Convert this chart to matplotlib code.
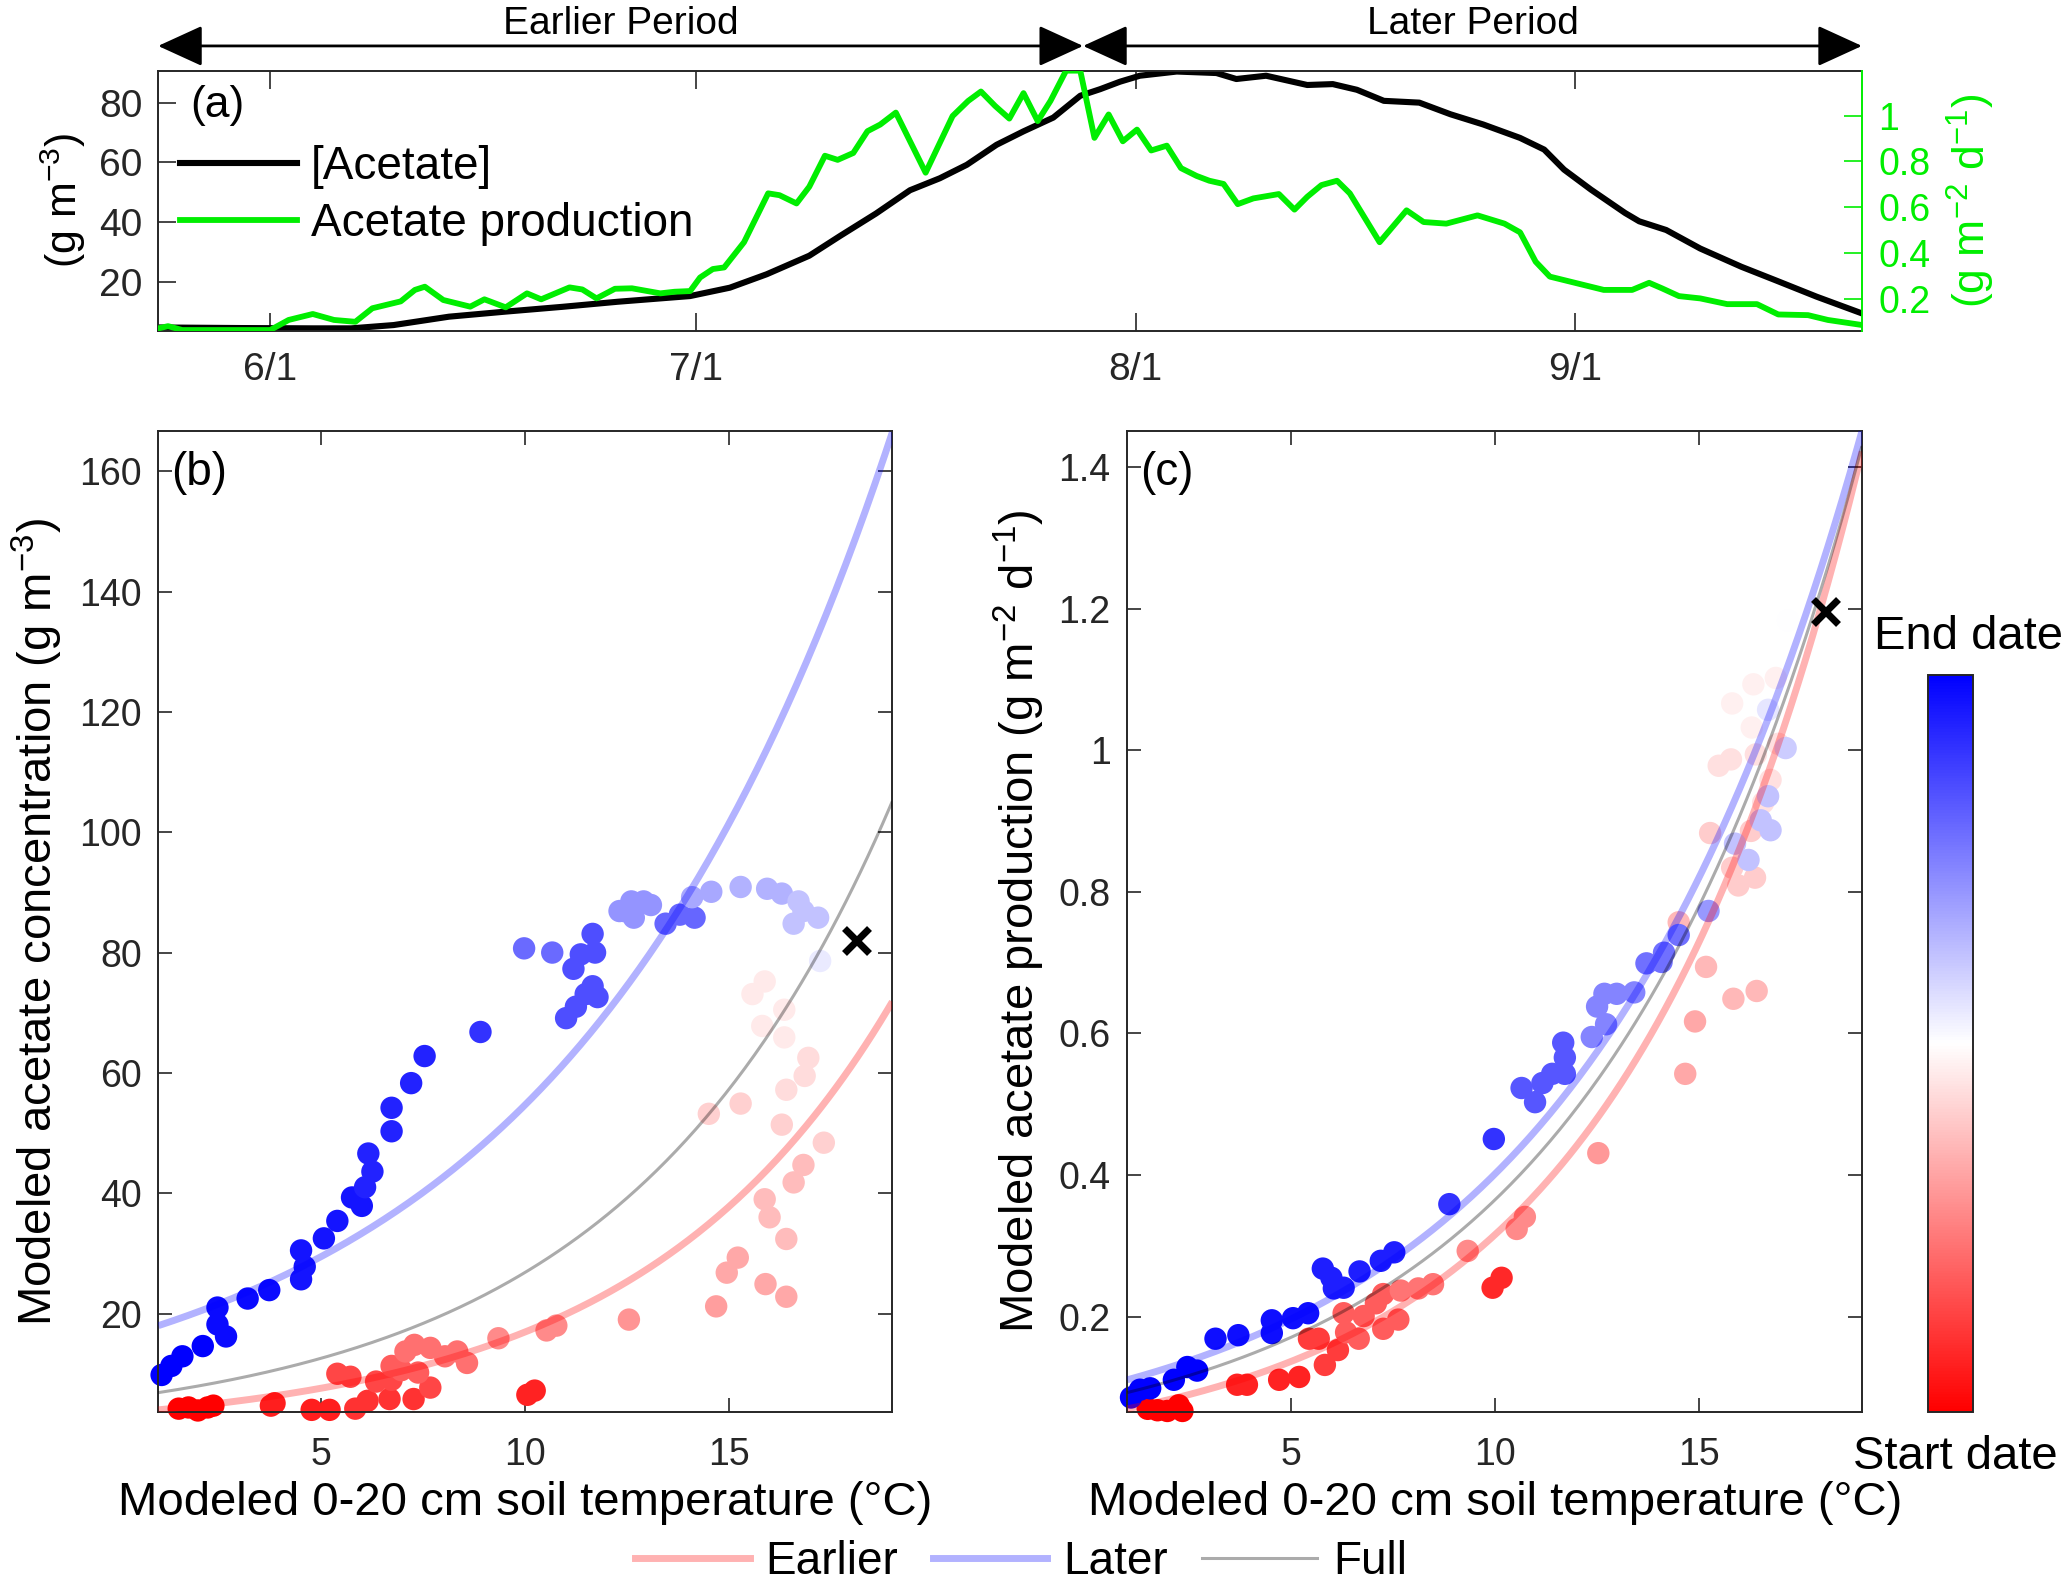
import numpy as np
import matplotlib
matplotlib.use('Agg')
import matplotlib.pyplot as plt
from matplotlib.colors import LinearSegmentedColormap, Normalize
from matplotlib.cm import ScalarMappable
from matplotlib.lines import Line2D
from matplotlib.ticker import FormatStrFormatter
import matplotlib.transforms as mtransforms

plt.rcParams['font.family'] = ['Liberation Sans', 'DejaVu Sans']
plt.rcParams['mathtext.default'] = 'regular'

# ---- panel (a): seasonal time series (day of year) ----
black_day = [144.1, 150, 155, 157.7, 160.7, 164.6, 168.6, 172.6, 176.5, 181.6,
             184.4, 187.0, 190.0, 192.2, 194.7, 197.1, 199.2, 201.1, 203.2, 205.1,
             207.2, 209.1, 210.5, 211.9, 213.3, 215.9, 218.7, 220.1, 222.2, 225.1,
             226.9, 228.6, 230.5, 233.0, 235.2, 237.5, 240.1, 241.8, 243.2, 245.1,
             247.5, 248.5, 250.4, 252.8, 255.7, 258.1, 261, 264.2]
acetate_conc = [4.8, 4.6, 4.5, 4.5, 5.6, 8.4, 10.1, 11.7, 13.4, 15.3,
                18.1, 22.6, 28.8, 35.5, 42.9, 50.7, 54.7, 59.2, 65.9, 70.4,
                75.0, 82.3, 84.5, 87.0, 89.0, 90.4, 89.9, 87.9, 89.0, 85.9,
                86.2, 84.3, 80.6, 80.0, 76.1, 72.7, 68.2, 64.3, 57.6, 50.9,
                43.1, 40.3, 37.4, 31.2, 25.1, 20.6, 15.1, 9.5]

green_day = [144.1, 144.8, 145.8, 152.0, 153.3, 155.0, 156.5, 158.0, 159.2, 161.2,
             162.2, 162.9, 164.2, 166.1, 167.1, 168.6, 170.1, 171.1, 173.1, 174.0,
             175.0, 176.3, 177.5, 179.5, 180.5, 181.6, 182.3, 183.2, 184.0, 185.4,
             187.1, 187.9, 189.1, 190.0, 191.1, 192.0, 193.1, 194.1, 195.0, 196.1,
             198.2, 200.1, 201.2, 202.1, 203.1, 204.1, 205.1, 206.1, 207.0, 208.1,
             209.1, 210.1, 211.1, 212.1, 213.1, 214.1, 215.2, 216.2, 217.3, 218.2,
             219.2, 220.2, 221.3, 223.1, 224.2, 225.1, 226.1, 227.2, 228.1, 230.2,
             232.1, 233.3, 234.9, 237.1, 239.0, 240.1, 241.2, 242.2, 244.1, 246.0,
             248.0, 249.2, 250.1, 251.3, 252.8, 254.7, 256.8, 258.3, 260.4, 261.8,
             264.2]
acetate_prod = [.072, .082, .065, .065, .109, .135, .109, .101, .160, .190,
                .240, .254, .196, .167, .199, .164, .225, .199, .251, .242,
                .203, .245, .247, .225, .232, .235, .294, .331, .338, .448,
                .661, .653, .617, .690, .825, .807, .837, .932, .961, 1.013,
                .751, .998, 1.064, 1.105, 1.042, .987, 1.098, .976, 1.064, 1.196,
                1.196, .903, 1.005, .888, .939, .848, .869, .771, .737, .716,
                .702, .614, .639, .658, .590, .646, .697, .716, .661, .448,
                .587, .536, .529, .565, .529, .491, .363, .298, .269, .240,
                .240, .271, .247, .213, .203, .178, .178, .133, .130, .109,
                .087]

date_ticks = [152, 182, 213, 244]
date_labels = ['6/1', '7/1', '8/1', '9/1']
period_edges = [144.1, 209.3, 264.2]
period_names = ['Earlier Period', 'Later Period']

# ---- panel (b): temperature vs concentration ----
# shade: 0 = start date (red), 0.5 = split date (white), 1 = end date (blue)
early_temp_b = [1.50, 1.74, 1.97, 2.21, 2.35, 3.76, 3.85, 4.76, 5.20,
                5.83, 6.13, 6.67, 7.26, 10.05, 10.23, 5.39, 5.71, 6.34, 6.72, 7.67,
                6.72, 6.96, 7.37, 7.28, 7.06, 7.67, 8.03, 8.33, 8.57,
                9.34, 10.52, 10.76, 12.54, 14.68, 14.94, 15.21, 15.89, 16.40,
                15.87, 15.99, 16.40, 16.58, 16.82, 14.50, 15.28, 16.29, 17.32,
                16.40, 16.85, 16.94, 15.57, 15.81, 15.87, 16.35, 16.35]
early_conc_b = [4.2, 4.4, 3.9, 4.4, 4.7, 4.7, 5.1, 4.0, 4.0,
                4.2, 5.5, 5.8, 5.8, 6.5, 7.2, 10.0, 9.5, 8.7, 9.0, 7.7,
                11.3, 10.6, 10.2, 14.8, 13.7, 14.3, 12.9, 13.7, 11.8,
                15.9, 17.2, 18.0, 19.0, 21.2, 26.8, 29.3, 24.9, 22.8,
                39.0, 36.0, 32.4, 41.8, 44.7, 53.2, 54.9, 51.4, 48.4,
                57.2, 59.5, 62.5, 73.1, 67.8, 75.2, 70.5, 65.9]
early_shade_b = [0.0] * 5 + [0.06] * 4 + [0.1] * 4 + [0.07] * 2 + [0.14] * 5 + \
                [0.18] * 3 + [0.22] * 6 + [0.27] * 3 + [0.29] + [0.31] + [0.33] * 4 + \
                [0.37] * 5 + [0.41] * 4 + [0.43] * 3 + [0.46] * 5

late_temp_b = [1.08, 1.32, 1.59, 2.09, 2.45, 2.45, 2.66, 3.19, 3.72, 4.50,
               4.59, 4.50, 5.06, 5.39, 5.75, 5.99, 6.07, 6.25, 6.15, 6.72,
               6.72, 7.20, 7.53, 8.90, 9.97, 10.66, 11.00, 11.24, 11.48, 11.77,
               11.65, 11.18, 11.36, 11.71, 11.65, 12.42, 12.60, 12.90, 13.08, 12.66,
               12.31, 13.44, 13.79, 14.15, 14.09, 14.56, 15.28, 15.93, 16.29, 16.70,
               16.82, 16.58, 17.18, 17.23]
late_conc_b = [9.8, 11.3, 12.9, 14.6, 21.0, 18.2, 16.2, 22.5, 23.9, 30.5,
               27.8, 25.7, 32.5, 35.4, 39.3, 37.9, 41.0, 43.6, 46.6, 50.3,
               54.2, 58.3, 62.8, 66.8, 80.7, 80.0, 69.1, 71.0, 73.1, 72.6,
               74.4, 77.3, 79.7, 80.0, 83.1, 86.9, 88.5, 88.5, 87.9, 85.8,
               86.9, 84.8, 86.3, 85.8, 89.2, 90.1, 90.9, 90.6, 89.8, 88.5,
               86.9, 84.8, 85.8, 78.6]
late_shade_b = [1.0] * 4 + [0.98] * 5 + [0.96] * 7 + [0.93] * 7 + [0.9] + [0.79] * 2 + \
               [0.845] * 9 + [0.71] * 6 + [0.8] * 3 + [0.67] * 2 + [0.65] * 3 + \
               [0.62] * 4 + [0.54]

# ---- panel (c): temperature vs production ----
early_temp_c = [1.50, 1.74, 1.98, 2.26, 2.35, 3.69, 3.93, 4.72, 5.21, 9.95, 10.17,
                5.45, 5.69, 6.16, 5.84, 6.30, 6.36, 6.67, 6.79, 7.09, 7.27, 7.64, 7.27,
                7.70, 8.13, 8.49, 9.34, 10.54, 10.74, 12.54, 14.67, 14.91,
                15.18, 15.85, 16.42, 14.51, 15.28, 16.28, 15.82, 15.97, 16.38,
                16.40, 15.79, 15.49, 16.95, 16.76, 16.58, 16.89, 16.34, 15.82, 16.30,
                17.19]
early_prod_c = [0.070, 0.068, 0.067, 0.075, 0.067, 0.104, 0.104, 0.111, 0.115, 0.241, 0.255,
                0.169, 0.169, 0.153, 0.132, 0.205, 0.178, 0.169, 0.201, 0.219, 0.232, 0.196, 0.183,
                0.237, 0.240, 0.246, 0.293, 0.324, 0.341, 0.431, 0.543, 0.617,
                0.694, 0.649, 0.660, 0.757, 0.883, 0.886, 0.834, 0.809, 0.820,
                0.994, 0.987, 0.978, 1.009, 0.958, 0.926, 1.102, 1.093, 1.066, 1.032,
                1.183]
early_shade_c = [0.0] * 5 + [0.07] * 4 + [0.08] * 2 + [0.12] * 4 + [0.18] * 8 + \
                [0.23] * 3 + [0.27] * 3 + [0.3] + [0.33] * 2 + [0.36] * 4 + \
                [0.4] * 5 + [0.44] * 6 + [0.47] * 4 + [0.5]

late_temp_c = [1.09, 1.31, 1.56, 2.14, 2.47, 2.71, 3.16, 3.72, 4.54, 4.54, 5.06, 5.43,
               5.79, 6.00, 6.06, 6.30, 6.69, 7.21, 7.54, 8.89, 9.98,
               10.66, 10.99, 11.17, 11.41, 11.72, 11.72, 11.68,
               12.38, 12.73, 12.51, 12.69, 12.99, 13.42, 13.72, 14.15, 14.09, 14.51,
               15.24, 15.89, 16.22, 16.52, 16.76, 16.70, 17.13, 16.70]
late_prod_c = [0.086, 0.097, 0.099, 0.111, 0.129, 0.124, 0.169, 0.174, 0.177, 0.195, 0.198, 0.205,
               0.268, 0.255, 0.240, 0.241, 0.264, 0.279, 0.291, 0.359, 0.451,
               0.523, 0.503, 0.530, 0.543, 0.543, 0.566, 0.587,
               0.595, 0.613, 0.638, 0.656, 0.656, 0.658, 0.699, 0.714, 0.701, 0.739,
               0.773, 0.868, 0.845, 0.901, 0.887, 0.935, 1.003, 1.057]
late_shade_c = [1.0] * 6 + [0.97] * 6 + [0.94] * 7 + [0.9] * 2 + [0.83] * 7 + \
               [0.74] * 6 + [0.78] * 4 + [0.7] + [0.62] * 5 + [0.6] + [0.55]

# split-date values (X marker): temperature, concentration, production
split_temp = 18.1
split_conc = 82.1
split_prod = 1.196

# exponential fits y = a * exp(b * T)
fit_names = ['Earlier', 'Later', 'Full']
fit_b = [(3.41, 0.1604), (15.9, 0.1236), (5.90, 0.1516)]
fit_c = [(0.0592, 0.1673), (0.0962, 0.1428), (0.0799, 0.1518)]

GREEN = '#00ee00'
AX_COL = '#262626'
cmap = LinearSegmentedColormap.from_list('rwb', [(1, 0, 0), (1, 1, 1), (0, 0, 1)])
fit_colors = [(1, 0, 0, 0.3), (0, 0, 1, 0.3), (0, 0, 0, 0.33)]
fit_widths = [5, 5, 2.2]

fig = plt.figure(figsize=(20.67, 15.84), dpi=100)
ax_a = fig.add_axes([0.0765, 0.7912, 0.8243, 0.1642])
ax_g = ax_a.twinx()
ax_b = fig.add_axes([0.0766, 0.1088, 0.3551, 0.6188])
ax_c = fig.add_axes([0.5454, 0.1088, 0.3554, 0.6188])
cax = fig.add_axes([0.9328, 0.1088, 0.0217, 0.4652])

# ---------------- (a) ----------------
l1, = ax_a.plot(black_day, acetate_conc, color='k', lw=4.4, zorder=2)
l2, = ax_g.plot(green_day, acetate_prod, color=GREEN, lw=4.2, zorder=2)
ax_a.set_xlim(144.1, 264.2)
ax_a.set_ylim(3.7, 90.7)
ax_g.set_ylim(0.062, 1.196)
ax_a.set_xticks(date_ticks)
ax_a.set_xticklabels(date_labels)
ax_a.set_yticks([20, 40, 60, 80])
ax_g.set_yticks([0.2, 0.4, 0.6, 0.8, 1.0])
ax_g.yaxis.set_major_formatter(FormatStrFormatter('%g'))
ax_a.tick_params(axis='x', direction='in', top=True, length=13, width=1.2,
                 labelsize=28, pad=15, colors=AX_COL)
ax_a.tick_params(axis='y', direction='in', length=13, width=1.2, labelsize=28,
                 pad=11, colors=AX_COL)
ax_g.tick_params(axis='y', direction='in', length=13, width=1.2, labelsize=27,
                 pad=12, colors=GREEN)
for sp in ['left', 'top', 'bottom']:
    ax_g.spines[sp].set_visible(False)
    ax_a.spines[sp].set_color(AX_COL)
    ax_a.spines[sp].set_linewidth(1.4)
ax_a.spines['right'].set_visible(False)
ax_g.spines['right'].set_color(GREEN)
ax_g.spines['right'].set_linewidth(1.4)
ax_a.set_ylabel('(g m$^{-3}$)', fontsize=31, labelpad=8)
ax_g.set_ylabel('(g m$^{-2}$ d$^{-1}$)', fontsize=32, color=GREEN, rotation=90,
                labelpad=10)
ax_a.text(0.019, 0.865, '(a)', transform=ax_a.transAxes, fontsize=32,
          ha='left', va='center')
ax_a.legend([l1, l2], ['[Acetate]', 'Acetate production'], loc='center left',
            bbox_to_anchor=(0.009, 0.52), frameon=False, fontsize=33,
            handlelength=2.55, handletextpad=0.3, labelspacing=0.28,
            borderaxespad=0, borderpad=0.15)

# period arrows above panel (a)
trans = mtransforms.blended_transform_factory(ax_a.transData, ax_a.transAxes)
for i, name in enumerate(period_names):
    x0, x1 = period_edges[i], period_edges[i + 1]
    ax_a.annotate('', xy=(x1, 1.095), xytext=(x0, 1.095), xycoords=trans,
                  textcoords=trans, annotation_clip=False,
                  arrowprops=dict(arrowstyle='<|-|>,head_length=0.7,head_width=0.32',
                                  color='k', lw=2, mutation_scale=40,
                                  shrinkA=0, shrinkB=0))
    ax_a.text((x0 + x1) / 2, 1.18, name, transform=trans, fontsize=28,
              ha='center', va='center')

# ---------------- (b) and (c) ----------------
t_grid = np.linspace(1.0, 19.0, 300)


def style_scatter_axes(ax):
    ax.set_xlim(1.0, 19.0)
    ax.set_xticks([5, 10, 15])
    ax.tick_params(direction='in', top=True, right=True, length=10, width=1.2,
                   labelsize=27, colors=AX_COL)
    ax.tick_params(axis='x', pad=18)
    ax.tick_params(axis='y', pad=12)
    for sp in ax.spines.values():
        sp.set_color(AX_COL)
        sp.set_linewidth(1.4)
    ax.set_xlabel('Modeled 0-20 cm soil temperature (°C)', fontsize=34, labelpad=6)


panels = [
    (ax_b, early_temp_b, early_conc_b, early_shade_b, late_temp_b, late_conc_b,
     late_shade_b, fit_b, split_conc, '(b)'),
    (ax_c, early_temp_c, early_prod_c, early_shade_c, late_temp_c, late_prod_c,
     late_shade_c, fit_c, split_prod, '(c)'),
]
for ax, et, ev, es, lt, lv, ls, fits, split_val, tag in panels:
    ax.scatter(et, ev, s=260, c=cmap(np.array(es)), edgecolors='none',
               clip_on=False, zorder=2)
    ax.scatter(lt, lv, s=260, c=cmap(np.array(ls)), edgecolors='none',
               clip_on=False, zorder=2)
    for (a, b), col, lw in zip(fits, fit_colors, fit_widths):
        ax.plot(t_grid, a * np.exp(b * t_grid), color=col, lw=lw, zorder=3,
                solid_capstyle='butt')
    ax.plot([split_temp], [split_val], marker='x', color='k', ms=18, mew=5,
            zorder=4, clip_on=False)
    ax.text(0.018, 0.958, tag, transform=ax.transAxes, fontsize=33,
            ha='left', va='center')
    style_scatter_axes(ax)

ax_b.set_ylim(3.7, 166.6)
ax_b.set_yticks(np.arange(20, 161, 20))
ax_b.set_ylabel('Modeled acetate concentration (g m$^{-3}$)', fontsize=34, labelpad=10)
ax_c.set_ylim(0.066, 1.45)
ax_c.set_yticks([0.2, 0.4, 0.6, 0.8, 1.0, 1.2, 1.4])
ax_c.yaxis.set_major_formatter(FormatStrFormatter('%g'))
ax_c.set_ylabel('Modeled acetate production (g m$^{-2}$ d$^{-1}$)', fontsize=34,
                labelpad=8)

# colorbar (start date -> end date)
cb = fig.colorbar(ScalarMappable(norm=Normalize(0, 1), cmap=cmap), cax=cax)
cb.set_ticks([])
cb.outline.set_linewidth(1.4)
cb.outline.set_edgecolor(AX_COL)
fig.text(0.9525, 0.598, 'End date', fontsize=34, ha='center', va='center')
fig.text(0.946, 0.08, 'Start date', fontsize=34, ha='center', va='center')

# shared legend for the fits
handles = [Line2D([], [], color=c, lw=w) for c, w in zip(fit_colors, fit_widths)]
fig.legend(handles, fit_names, loc='center', bbox_to_anchor=(0.494, 0.014),
           ncol=3, frameon=False, fontsize=33, handlelength=2.5,
           handletextpad=0.35, columnspacing=0.75)

fig.savefig('out.png', dpi=100)
